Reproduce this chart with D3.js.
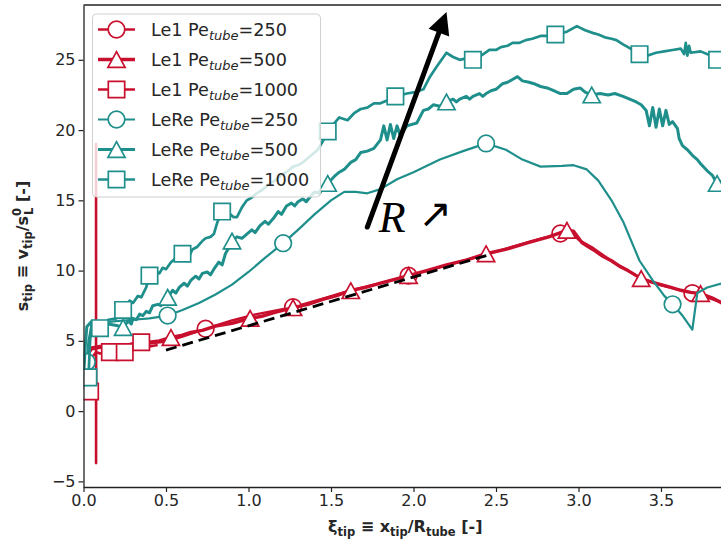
<!DOCTYPE html>
<html>
<head>
<meta charset="utf-8">
<script src="https://cdnjs.cloudflare.com/ajax/libs/d3/7.8.5/d3.min.js"></script>
<style>
  body { margin: 0; background: #fff; }
  svg { display: block; }
</style>
</head>
<body>
<svg id="chart" width="721" height="544"></svg>
<script>
// ---- tick labels ----
const xTicks = [0, 0.5, 1.0, 1.5, 2.0, 2.5, 3.0, 3.5];
const yTicks = [-5, 0, 5, 10, 15, 20, 25];

// ---- Le1 series: [xi_tip, s_tip] ----
const le1_250 = [[0.00,1.6],[0.02,3.9],[0.05,4.4],[0.10,4.5],[0.20,4.6],[0.30,4.7],[0.40,4.8],[0.50,4.95],[0.60,5.3],[0.74,5.86],[0.90,6.45],[1.05,6.9],[1.27,7.4],[1.45,8.0],[1.62,8.6],[1.80,9.1],[1.97,9.64],[2.15,10.2],[2.30,10.7],[2.44,11.15],[2.60,11.7],[2.75,12.2],[2.89,12.64],[2.95,12.8],[3.00,12.2],[3.09,11.6],[3.21,10.6],[3.38,9.45],[3.50,8.95],[3.57,8.75],[3.69,8.4],[3.80,8.0],[3.90,7.6]];
const le1_250_marks = [0.74, 1.27, 1.97, 2.89, 3.69];

const le1_500 = [[0.00,1.5],[0.02,4.0],[0.05,4.5],[0.10,4.6],[0.15,4.5],[0.20,4.7],[0.25,4.65],[0.30,4.8],[0.35,4.75],[0.40,4.9],[0.46,5.0],[0.53,5.24],[0.60,5.4],[0.65,5.6],[0.72,5.75],[0.80,6.05],[0.90,6.25],[1.01,6.6],[1.08,6.75],[1.15,7.0],[1.27,7.36],[1.36,7.6],[1.45,7.95],[1.53,8.2],[1.62,8.57],[1.71,8.8],[1.80,9.1],[1.88,9.35],[1.97,9.64],[2.08,10.0],[2.20,10.4],[2.32,10.75],[2.44,11.2],[2.57,11.55],[2.70,12.0],[2.82,12.4],[2.93,12.86],[2.97,12.8],[3.02,12.0],[3.06,11.7],[3.10,11.4],[3.15,11.0],[3.20,10.7],[3.25,10.3],[3.30,10.0],[3.38,9.43],[3.44,9.2],[3.50,9.0],[3.56,8.8],[3.62,8.6],[3.68,8.45],[3.74,8.36],[3.82,8.0],[3.90,7.5]];
const le1_500_marks = [0.53, 1.01, 1.27, 1.62, 1.97, 2.44, 2.93, 3.38, 3.74];

const le1_1000 = [[0.00,1.3],[0.04,1.4],[0.05,3.8],[0.07,4.1],[0.076,4.2],[0.0761,19.0],[0.0762,-3.7],[0.0765,4.2],[0.10,4.1],[0.16,4.2],[0.20,4.25],[0.25,4.2],[0.30,4.4],[0.35,4.9],[0.40,4.6],[0.45,4.7]];
const le1_1000_marks = [0.04, 0.16, 0.25, 0.35];

// ---- LeRe series ----
const lere_250 = [[0.00,2.0],[0.02,3.5],[0.03,5.0],[0.05,6.2],[0.10,6.3],[0.20,6.4],[0.30,6.5],[0.40,6.6],[0.51,6.8],[0.60,7.2],[0.70,7.7],[0.80,8.3],[0.90,9.0],[1.00,9.9],[1.10,10.9],[1.21,11.95],[1.30,12.9],[1.40,14.0],[1.50,15.0],[1.58,15.6],[1.65,15.6],[1.72,15.5],[1.80,15.8],[1.90,16.5],[2.00,17.0],[2.16,17.9],[2.30,18.5],[2.44,19.05],[2.56,18.6],[2.66,17.9],[2.77,17.4],[2.90,17.45],[2.97,17.5],[3.05,17.2],[3.12,16.4],[3.20,15.0],[3.27,13.5],[3.37,10.7],[3.45,9.3],[3.52,8.2],[3.57,7.6],[3.63,6.8],[3.69,5.8],[3.72,8.4],[3.78,8.8],[3.90,9.2]];
const lere_250_marks = [0.02, 0.51, 1.21, 2.44, 3.57];

const lere_500 = [[0.00,2.3],[0.01,4.5],[0.02,6.0],[0.05,6.4],[0.10,6.3],[0.15,6.2],[0.20,6.1],[0.24,5.95],[0.27,6.4],[0.29,6.2],[0.30,6.6],[0.32,6.5],[0.34,6.9],[0.36,6.8],[0.38,7.1],[0.40,7.0],[0.42,7.5],[0.45,7.6],[0.47,7.5],[0.49,8.0],[0.51,8.1],[0.54,8.6],[0.56,8.4],[0.58,8.8],[0.61,9.1],[0.63,8.9],[0.65,9.3],[0.68,9.6],[0.70,9.4],[0.72,9.8],[0.75,9.9],[0.77,9.7],[0.79,10.1],[0.82,10.6],[0.84,10.4],[0.86,11.2],[0.88,11.6],[0.90,12.1],[0.93,12.4],[0.96,12.3],[0.99,12.6],[1.02,12.9],[1.04,12.7],[1.07,13.2],[1.10,13.5],[1.12,13.3],[1.15,13.7],[1.18,14.2],[1.20,14.0],[1.23,14.6],[1.26,14.8],[1.28,14.6],[1.30,14.9],[1.33,15.1],[1.35,14.9],[1.37,15.2],[1.40,15.6],[1.43,15.5],[1.46,16.0],[1.48,16.2],[1.52,16.7],[1.55,17.0],[1.58,17.2],[1.62,17.7],[1.65,17.9],[1.68,18.4],[1.72,18.5],[1.76,18.7],[1.80,19.3],[1.82,20.3],[1.84,19.3],[1.86,20.4],[1.88,19.4],[1.90,20.3],[1.92,19.6],[1.96,20.3],[2.02,20.5],[2.06,21.4],[2.09,21.5],[2.12,21.8],[2.16,21.7],[2.20,22.0],[2.24,22.2],[2.26,22.0],[2.28,22.2],[2.32,22.4],[2.34,22.2],[2.36,22.4],[2.40,22.6],[2.42,22.4],[2.44,22.6],[2.47,22.8],[2.50,22.9],[2.54,23.3],[2.57,23.4],[2.60,23.6],[2.63,23.8],[2.66,23.5],[2.70,23.4],[2.73,23.3],[2.77,23.1],[2.81,23.0],[2.85,22.8],[2.89,22.6],[2.93,22.6],[2.97,22.9],[3.01,23.0],[3.04,22.7],[3.08,22.5],[3.13,22.6],[3.18,22.5],[3.22,22.6],[3.27,22.4],[3.31,22.2],[3.35,22.0],[3.38,21.8],[3.41,21.4],[3.43,20.3],[3.45,21.6],[3.47,20.2],[3.49,21.5],[3.51,20.3],[3.53,21.4],[3.55,20.4],[3.57,20.6],[3.60,20.1],[3.61,19.4],[3.63,18.9],[3.66,18.6],[3.69,18.2],[3.72,17.9],[3.74,17.6],[3.78,17.1],[3.81,16.8],[3.84,16.2],[3.90,16.6]];
const lere_500_marks = [0.24, 0.51, 0.90, 1.48, 2.20, 3.08, 3.84];

const lere_1000 = [[0.00,2.0],[0.03,2.4],[0.04,5.0],[0.05,6.3],[0.08,6.1],[0.10,5.9],[0.15,6.5],[0.20,6.6],[0.24,7.2],[0.26,7.6],[0.28,7.86],[0.30,7.7],[0.33,8.2],[0.35,8.1],[0.38,8.8],[0.40,9.64],[0.42,9.5],[0.44,9.9],[0.46,9.8],[0.48,10.2],[0.50,10.1],[0.53,10.6],[0.56,10.9],[0.58,10.8],[0.60,11.2],[0.62,11.1],[0.64,11.0],[0.66,11.5],[0.69,11.7],[0.72,12.1],[0.74,12.3],[0.77,12.4],[0.79,12.6],[0.81,13.4],[0.84,14.2],[0.87,14.1],[0.89,14.0],[0.91,13.8],[0.93,13.8],[0.96,14.5],[0.99,15.0],[1.02,15.2],[1.05,15.5],[1.09,15.8],[1.13,16.2],[1.16,16.4],[1.20,16.8],[1.24,17.1],[1.27,17.4],[1.30,17.5],[1.33,17.7],[1.37,18.1],[1.42,18.6],[1.45,19.2],[1.48,19.9],[1.55,20.9],[1.60,20.7],[1.64,21.2],[1.68,21.5],[1.72,21.6],[1.76,21.9],[1.80,21.9],[1.84,22.1],[1.89,22.4],[1.96,22.6],[2.01,22.7],[2.06,22.9],[2.10,23.8],[2.14,24.5],[2.20,25.5],[2.24,25.2],[2.28,25.0],[2.32,25.1],[2.36,25.0],[2.41,25.3],[2.46,25.7],[2.50,25.7],[2.53,25.9],[2.57,26.0],[2.60,26.2],[2.64,26.2],[2.68,26.4],[2.72,26.5],[2.77,26.7],[2.81,26.7],[2.86,26.8],[2.93,27.0],[2.99,27.4],[3.04,27.1],[3.09,26.9],[3.12,26.8],[3.16,26.6],[3.20,26.5],[3.23,26.4],[3.27,26.1],[3.30,25.9],[3.37,25.4],[3.42,25.3],[3.47,25.5],[3.52,25.6],[3.57,25.7],[3.62,25.8],[3.64,25.4],[3.65,26.2],[3.66,25.3],[3.67,26.0],[3.68,25.5],[3.74,25.6],[3.80,25.3],[3.84,25.0],[3.90,25.0]];
const lere_1000_marks = [0.03, 0.10, 0.24, 0.40, 0.60, 0.84, 1.48, 1.89, 2.36, 2.86, 3.37, 3.84];

// ---- linear fit (dashed) and R-trend arrow, in data units ----
const fitX = [0.5, 2.45];
const fitY = [4.34, 11.1];
const arrowFrom = [1.72, 13.1];
const arrowTo = [2.20, 28.4];

const RED = "#c8102e";
const TEAL = "#1f8f8c";

const series = [
  { name: "Le1",  pe: "250",  data: le1_250,   marks: le1_250_marks,   color: RED,  lw: 2.4, shape: "circle" },
  { name: "Le1",  pe: "500",  data: le1_500,   marks: le1_500_marks,   color: RED,  lw: 3.4, shape: "triangle" },
  { name: "Le1",  pe: "1000", data: le1_1000,  marks: le1_1000_marks,  color: RED,  lw: 2.6, shape: "square" },
  { name: "LeRe", pe: "250",  data: lere_250,  marks: lere_250_marks,  color: TEAL, lw: 2.2, shape: "circle" },
  { name: "LeRe", pe: "500",  data: lere_500,  marks: lere_500_marks,  color: TEAL, lw: 3.0, shape: "triangle" },
  { name: "LeRe", pe: "1000", data: lere_1000, marks: lere_1000_marks, color: TEAL, lw: 2.7, shape: "square" }
];

// ---- layout ----
const svg = d3.select("#chart");
const plot = { left: 83.5, top: 5, right: 727, bottom: 487 };

const x = d3.scaleLinear().domain([0, 3.9]).range([plot.left, plot.right]);
const y = d3.scaleLinear().domain([-5.4, 28.9]).range([plot.bottom, plot.top]);

svg.append("defs").append("clipPath").attr("id", "plotclip")
  .append("rect")
  .attr("x", plot.left).attr("y", plot.top)
  .attr("width", plot.right - plot.left).attr("height", plot.bottom - plot.top);

function markerPath(shape) {
  if (shape === "circle") {
    const r = 8.3;
    return `M${r},0A${r},${r} 0 1,1 ${-r},0A${r},${r} 0 1,1 ${r},0Z`;
  }
  if (shape === "square") {
    const h = 8.2;
    return `M${-h},${-h}H${h}V${h}H${-h}Z`;
  }
  const w = 8.6, hh = 7.8;
  return `M0,${-hh}L${w},${hh}L${-w},${hh}Z`;
}

const g = svg.append("g").attr("clip-path", "url(#plotclip)");
const line = d3.line().x(d => x(d[0])).y(d => y(d[1]));

series.forEach(s => {
  const sg = g.append("g");
  sg.append("path")
    .datum(s.data)
    .attr("d", line)
    .attr("fill", "none")
    .attr("stroke", s.color)
    .attr("stroke-width", s.lw)
    .attr("stroke-linejoin", "round");
  const pts = s.marks.map(m => s.data.find(p => Math.abs(p[0] - m) < 1e-9)).filter(Boolean);
  sg.selectAll("path.mk").data(pts).enter().append("path")
    .attr("class", "mk")
    .attr("d", markerPath(s.shape))
    .attr("transform", d => `translate(${x(d[0])},${y(d[1])})`)
    .attr("fill", "#fff")
    .attr("stroke", s.color)
    .attr("stroke-width", 1.7);
});

// dashed linear fit
g.append("path")
  .datum(fitX.map((v, i) => [v, fitY[i]]))
  .attr("d", line)
  .attr("fill", "none")
  .attr("stroke", "#000")
  .attr("stroke-width", 2.8)
  .attr("stroke-dasharray", "11,6");

// ---- axes ----
const fontAxis = "'DejaVu Sans', sans-serif";
const xAxis = d3.axisBottom(x).tickValues(xTicks).tickFormat(d3.format(".1f")).tickSize(5).tickSizeOuter(0);
const yAxis = d3.axisLeft(y).tickValues(yTicks).tickFormat(d => d < 0 ? "\u2212" + Math.abs(d) : d).tickSize(5).tickSizeOuter(0);

const gx = svg.append("g").attr("transform", `translate(0,${plot.bottom})`).call(xAxis);
const gy = svg.append("g").attr("transform", `translate(${plot.left},0)`).call(yAxis);
[gx, gy].forEach(a => {
  a.selectAll("text").attr("font-family", fontAxis).attr("font-size", 16).attr("fill", "#262626");
  a.selectAll("line").attr("stroke", "#222").attr("stroke-width", 1.2);
  a.select(".domain").attr("stroke", "#222").attr("stroke-width", 1.3);
});
// top spine
svg.append("line")
  .attr("x1", plot.left).attr("x2", plot.right)
  .attr("y1", plot.top).attr("y2", plot.top)
  .attr("stroke", "#222").attr("stroke-width", 1.3);

// axis titles
const xt = svg.append("text")
  .attr("x", (plot.left + plot.right) / 2).attr("y", 532)
  .attr("text-anchor", "middle")
  .attr("font-family", fontAxis).attr("font-size", 16).attr("font-weight", "bold")
  .attr("fill", "#262626");
function sub(t, txt, size) {
  t.append("tspan").attr("dy", 4).attr("font-size", size || 11.5).text(txt);
}
function back(t, txt) {
  t.append("tspan").attr("dy", -4).text(txt);
}
xt.append("tspan").text("\u03be");
sub(xt, "tip");
back(xt, " \u2261 x");
sub(xt, "tip");
back(xt, "/R");
sub(xt, "tube");
back(xt, " [-]");

const yt = svg.append("text")
  .attr("transform", `translate(28,${(plot.top + plot.bottom) / 2}) rotate(-90)`)
  .attr("text-anchor", "middle")
  .attr("font-family", fontAxis).attr("font-size", 16).attr("font-weight", "bold")
  .attr("fill", "#262626");
yt.append("tspan").text("s");
sub(yt, "tip");
back(yt, " \u2261 v");
sub(yt, "tip");
back(yt, "/s");
yt.append("tspan").attr("dy", -7).attr("font-size", 11.5).text("0");
yt.append("tspan").attr("dx", -7).attr("dy", 12).attr("font-size", 11.5).text("L");
yt.append("tspan").attr("dy", -5).text(" [-]");

// ---- R-trend arrow ----
const ax0 = x(arrowFrom[0]), ay0 = y(arrowFrom[1]);
const ax1 = x(arrowTo[0]), ay1 = y(arrowTo[1]);
const ang = Math.atan2(ay1 - ay0, ax1 - ax0);
const headL = 22, headW = 11;
const bx = ax1 - headL * Math.cos(ang), by = ay1 - headL * Math.sin(ang);
svg.append("line")
  .attr("x1", ax0).attr("y1", ay0).attr("x2", bx).attr("y2", by)
  .attr("stroke", "#000").attr("stroke-width", 5).attr("stroke-linecap", "round");
svg.append("path")
  .attr("d", `M${ax1},${ay1}L${bx + headW * Math.sin(ang)},${by - headW * Math.cos(ang)}L${bx - headW * Math.sin(ang)},${by + headW * Math.cos(ang)}Z`)
  .attr("fill", "#000");

svg.append("text")
  .attr("x", x(1.79)).attr("y", y(12.75))
  .attr("font-family", "'Liberation Serif', 'DejaVu Serif', serif")
  .attr("font-style", "italic").attr("font-size", 44)
  .attr("fill", "#000").text("R");
svg.append("text")
  .attr("x", x(2.03)).attr("y", y(13.1))
  .attr("font-family", "'DejaVu Sans', sans-serif")
  .attr("font-size", 40)
  .attr("fill", "#000").text("\u2197");

// ---- legend ----
const lg = svg.append("g");
lg.append("rect")
  .attr("x", 92.5).attr("y", 14).attr("width", 228).attr("height", 183)
  .attr("rx", 4)
  .attr("fill", "#fff").attr("fill-opacity", 0.8)
  .attr("stroke", "#d0d0d0").attr("stroke-width", 1);

series.forEach((s, i) => {
  const cy = 29.5 + i * 30;
  const row = lg.append("g");
  row.append("line")
    .attr("x1", 98).attr("x2", 135).attr("y1", cy).attr("y2", cy)
    .attr("stroke", s.color).attr("stroke-width", s.lw);
  row.append("path")
    .attr("d", markerPath(s.shape))
    .attr("transform", `translate(116.5,${cy})`)
    .attr("fill", "#fff").attr("stroke", s.color).attr("stroke-width", 1.7);
  const t = row.append("text")
    .attr("x", 151).attr("y", cy + 6.5)
    .attr("font-family", fontAxis).attr("font-size", 17.6)
    .attr("fill", "#262626");
  t.append("tspan").text(`${s.name} Pe`);
  t.append("tspan").attr("dy", 4).attr("font-size", 13).attr("font-style", "italic").text("tube");
  t.append("tspan").attr("dy", -4).text(`=${s.pe}`);
});
</script>
</body>
</html>
